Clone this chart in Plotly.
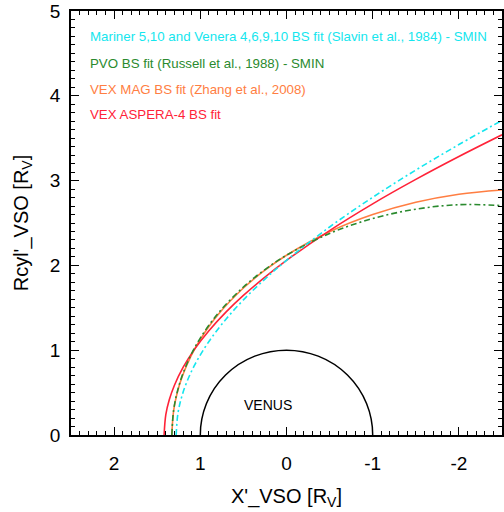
import plotly.graph_objects as go

# ---- data (X' in R_V, Rcyl' in R_V) ----
slavin_x = [1.28, 1.26, 1.22, 1.16, 1.06, 0.90, 0.70, 0.50, 0.25, 0.00, -0.50, -1.00, -1.50, -2.00, -2.50]
slavin_y = [0.000, 0.251, 0.435, 0.616, 0.836, 1.103, 1.368, 1.593, 1.839, 2.060, 2.453, 2.803, 3.124, 3.425, 3.710]

russell_x = [1.33, 1.31, 1.27, 1.21, 1.11, 1.00, 0.80, 0.50, 0.25, 0.00, -0.50, -1.00, -1.50, -2.00, -2.50]
russell_y = [0.000, 0.288, 0.497, 0.700, 0.941, 1.143, 1.427, 1.745, 1.951, 2.120, 2.377, 2.553, 2.663, 2.716, 2.705]

zhang_x = [1.33, 1.31, 1.27, 1.21, 1.11, 1.00, 0.80, 0.50, 0.25, 0.00, -0.50, -1.00, -1.50, -2.00, -2.50]
zhang_y = [0.000, 0.283, 0.489, 0.689, 0.928, 1.128, 1.412, 1.733, 1.944, 2.120, 2.397, 2.599, 2.744, 2.839, 2.890]

aspera_x = [1.42, 1.40, 1.36, 1.30, 1.20, 1.07, 0.90, 0.70, 0.50, 0.25, 0.00, -0.50, -1.00, -1.50, -2.00, -2.50]
aspera_y = [0.000, 0.240, 0.415, 0.587, 0.797, 1.007, 1.230, 1.452, 1.646, 1.862, 2.059, 2.411, 2.726, 3.014, 3.284, 3.540]

venus_radius = 1.0

legend_labels = [
    "Mariner 5,10 and Venera 4,6,9,10 BS fit (Slavin et al., 1984) - SMIN",
    "PVO BS fit (Russell et al., 1988) - SMIN",
    "VEX MAG BS fit (Zhang et al., 2008)",
    "VEX ASPERA-4 BS fit",
]
x_ticks = [2, 1, 0, -1, -2]
y_ticks = [0, 1, 2, 3, 4, 5]

CYAN = "#14E6EE"
GREEN = "#2A8A2E"
ORANGE = "#FF7E42"
RED = "#FF2238"
FONT = "Liberation Sans"

fig = go.Figure()
fig.add_trace(go.Scatter(x=zhang_x, y=zhang_y, mode="lines",
                         line=dict(color=ORANGE, width=1.6, shape="spline"), hoverinfo="skip"))
fig.add_trace(go.Scatter(x=aspera_x, y=aspera_y, mode="lines",
                         line=dict(color=RED, width=1.6, shape="spline"), hoverinfo="skip"))
fig.add_trace(go.Scatter(x=russell_x, y=russell_y, mode="lines",
                         line=dict(color=GREEN, width=1.6, shape="spline", dash="6px,3px,2px,3px"),
                         hoverinfo="skip"))
fig.add_trace(go.Scatter(x=slavin_x, y=slavin_y, mode="lines",
                         line=dict(color=CYAN, width=1.6, shape="spline", dash="6px,3px,2px,3px"),
                         hoverinfo="skip"))

# Venus (half disc above the axis, clipped by the plot area)
fig.add_shape(type="circle", xref="x", yref="y",
              x0=-venus_radius, x1=venus_radius, y0=-venus_radius, y1=venus_radius,
              line=dict(color="black", width=1.5), layer="above")
fig.add_annotation(x=0.21, y=0.35, text="VENUS", showarrow=False, xref="x", yref="y",
                   font=dict(family=FONT, size=14, color="black"))

colors = [CYAN, GREEN, ORANGE, RED]
legend_y = [0.941, 0.877, 0.816, 0.757]
for lab, col, yp in zip(legend_labels, colors, legend_y):
    fig.add_annotation(x=0.039, y=yp, xref="paper", yref="paper", text=lab,
                       showarrow=False, xanchor="left", yanchor="middle",
                       font=dict(family=FONT, size=13.3, color=col))

axis_common = dict(
    showgrid=False, zeroline=False, showline=True, linecolor="black", linewidth=1.5,
    mirror="allticks", ticks="inside", ticklen=8, tickwidth=1.2, tickcolor="black",
    tickfont=dict(family=FONT, size=19, color="black"),
    minor=dict(dtick=0.1, ticks="inside", ticklen=4, tickwidth=1, tickcolor="black"),
)
fig.update_xaxes(range=[2.5, -2.5], tickvals=x_ticks, ticktext=[str(v) for v in x_ticks],
                 title=dict(text="X'_VSO [R<sub>V</sub>]", font=dict(family=FONT, size=20, color="black"),
                            standoff=16),
                 ticklabelstandoff=10, **axis_common)
fig.update_yaxes(range=[0, 5], tickvals=y_ticks, ticktext=[str(v) for v in y_ticks],
                 title=dict(text="Rcyl'_VSO [R<sub>V</sub>]", font=dict(family=FONT, size=20, color="black"),
                            standoff=16),
                 ticklabelstandoff=5, **axis_common)

fig.update_layout(
    width=504, height=512, showlegend=False,
    margin=dict(l=71, r=2, t=11, b=77, autoexpand=False),
    paper_bgcolor="white", plot_bgcolor="white",
)

fig.write_html("out.html", config={"displayModeBar": False},
               post_script="document.body.style.margin='0';")
